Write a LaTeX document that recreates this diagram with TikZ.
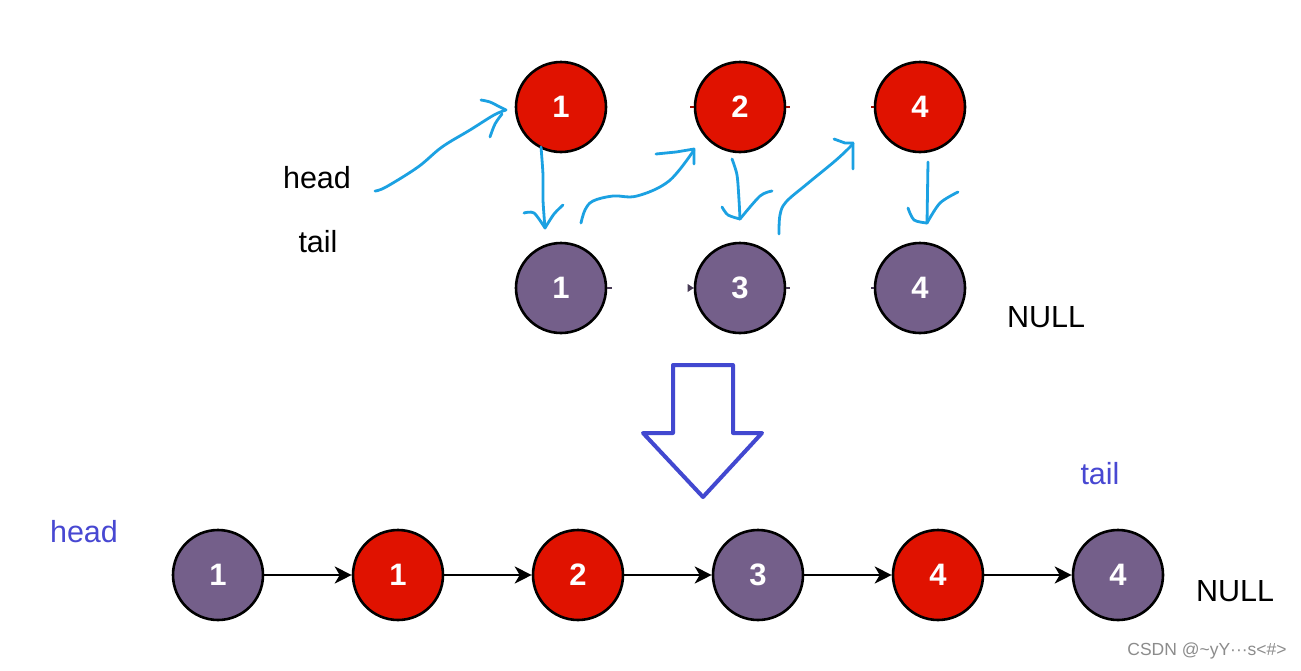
\documentclass[tikz,border=0pt]{standalone}
\usepackage{fontspec}
\setmainfont{Liberation Sans}
\usetikzlibrary{arrows.meta}
\definecolor{nred}{RGB}{224,18,0}
\definecolor{npurple}{RGB}{116,95,138}
\definecolor{hand}{RGB}{27,161,226}
\definecolor{bigblue}{RGB}{66,72,208}
\definecolor{lblblue}{RGB}{72,72,210}
\tikzset{
  x=1pt, y=-1pt,
  lnode/.style={circle, draw=black, line width=2.6pt, minimum size=90pt, inner sep=0pt,
    text=white, font=\bfseries\fontsize{31}{32}\selectfont},
  rednode/.style={lnode, fill=nred},
  purnode/.style={lnode, fill=npurple},
  lbl/.style={font=\fontsize{30.5}{32}\selectfont, inner sep=0pt},
  handline/.style={draw=hand, line width=2.8pt, line cap=round, line join=round},
  link/.style={draw=black, line width=2.4pt, -{Stealth[length=17pt,width=17pt,inset=5pt]}},
  stub/.style={line width=2pt}
}
\begin{document}
\begin{tikzpicture}
\useasboundingbox (0,0) rectangle (1301,670);
\fill[white] (0,0) rectangle (1301,670);
% top rows
\node[rednode] (r1) at (561,107) {1};
\node[rednode] (r2) at (740,107) {2};
\node[rednode] (r4) at (920,107) {4};
\node[purnode] (p1) at (561,288) {1};
\node[purnode] (p3) at (740,288) {3};
\node[purnode] (p4) at (920,288) {4};
% tiny stubs
\draw[stub, draw=nred!70!black] (r2.west) -- ++(-4,0);
\draw[stub, draw=nred!70!black] (r2.east) -- ++(4,0);
\draw[stub, draw=nred!70!black] (r4.west) -- ++(-3,0);
\draw[stub, draw=npurple!60!black] (p1.east) -- ++(5,0);
\draw[stub, draw=npurple!60!black] (p3.east) -- ++(4,0);
\draw[stub, draw=npurple!60!black] (p4.west) -- ++(-3,0);
\fill[npurple!60!black] (p3.west) -- ++(-6,-4) -- ++(0,8) -- cycle;
% labels
\node[lbl] (h1) at (317,178) {head};
\node[lbl] (t1) at (318,242) {tail};
\node[lbl] (n1) at (1046,317) {NULL};
% hand-drawn arrows
\draw[handline] plot[smooth, tension=0.6] coordinates {(375,191) (386,187) (418,167) (442,147) (470,130) (494,115) (506,110)};
\draw[handline] plot[smooth, tension=0.6] coordinates {(481,100) (490,102) (498,106) (506,110)};
\draw[handline] plot[smooth, tension=0.6] coordinates {(490,137) (495,124) (502,114)};
\draw[handline] plot[smooth, tension=0.5] coordinates {(541,147) (543,175) (543,200) (545,228)};
\draw[handline] plot[smooth, tension=0.5] coordinates {(524,213) (534,213) (545,228)};
\draw[handline] plot[smooth, tension=0.5] coordinates {(563,205) (554,214) (545,228)};
\draw[handline] plot[smooth, tension=0.6] coordinates {(581,223) (585,210) (593,201) (613,196) (637,196) (669,181) (694,150)};
\draw[handline] (656,154) -- (676,152) -- (694,149) -- (694,164);
\draw[handline] plot[smooth, tension=0.5] coordinates {(732,159) (737,175) (739,200) (740,219)};
\draw[handline] plot[smooth, tension=0.5] coordinates {(722,207) (728,215) (740,219)};
\draw[handline] plot[smooth, tension=0.5] coordinates {(772,191) (760,196) (740,219)};
\draw[handline] plot[smooth, tension=0.6] coordinates {(779,234) (780,215) (786,202) (807,184) (835,161) (850,147) (853,143)};
\draw[handline] (834,139) -- (845,143) -- (853,143) -- (853,169);
\draw[handline] (928,162) -- (927,223);
\draw[handline] plot[smooth, tension=0.5] coordinates {(908,208) (914,220) (927,223)};
\draw[handline] plot[smooth, tension=0.5] coordinates {(958,192) (940,203) (927,223)};
% big hollow arrow
\draw[draw=bigblue, line width=4pt, line join=round, fill=white]
  (673,365) -- (733,365) -- (733,433) -- (762,433) -- (703,497) -- (643,433) -- (673,433) -- cycle;
% bottom row
\node[purnode] (b1) at (218,575) {1};
\node[rednode] (b2) at (398,575) {1};
\node[rednode] (b3) at (578,575) {2};
\node[purnode] (b4) at (758,575) {3};
\node[rednode] (b5) at (938,575) {4};
\node[purnode] (b6) at (1118,575) {4};
\draw[link] (b1) -- (b2);
\draw[link] (b2) -- (b3);
\draw[link] (b3) -- (b4);
\draw[link] (b4) -- (b5);
\draw[link] (b5) -- (b6);
\node[lbl, text=lblblue] (h2) at (84,532) {head};
\node[lbl, text=lblblue] (t2) at (1100,474) {tail};
\node[lbl] (n2) at (1235,591) {NULL};
\node[font=\fontsize{17.5}{19}\selectfont, text=black!45, inner sep=0pt] (wm) at (1207,651) {CSDN @\textasciitilde yY···s<\#>};
\end{tikzpicture}
\end{document}
